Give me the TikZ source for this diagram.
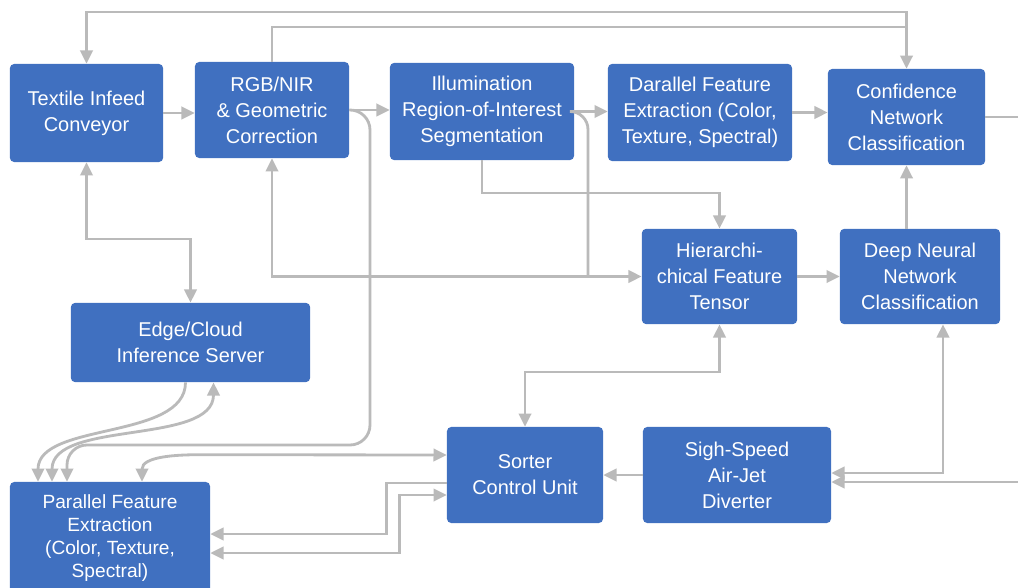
\documentclass[tikz,border=0pt]{standalone}
\usepackage{fontspec}
\setmainfont{Liberation Sans}
\usetikzlibrary{arrows.meta,calc}
\definecolor{boxblue}{RGB}{64,112,192}
\definecolor{wiregray}{RGB}{186,186,186}
\tikzset{
  stagebox/.style={fill=boxblue,rounded corners=3pt,align=center,text=white,
    font=\fontsize{14.2}{18.5}\selectfont,inner sep=2pt},
  flowline/.style={draw=wiregray,line width=2pt},
  flowarrow/.style={flowline,-{Triangle[length=3.3mm,width=3.1mm]}},
  duplexarrow/.style={flowline,{Triangle[length=3.3mm,width=3.1mm]}-{Triangle[length=3.3mm,width=3.1mm]}}
}

\begin{document}
\begin{tikzpicture}[x=0.025cm,y=0.025cm]
  \path[use as bounding box,clip] (0,0) rectangle (1018,587);
  \fill[white] (0,0) rectangle (1018,587);
  % top row
  \node[stagebox,minimum width=3.83cm,minimum height=2.45cm] (infeed) at (86.5,474) {Textile Infeed\\Conveyor};
  \node[stagebox,minimum width=3.85cm,minimum height=2.4cm] (rgb) at (272,477) {RGB/NIR\\\& Geometric\\Correction};
  \node[stagebox,minimum width=4.6cm,minimum height=2.43cm] (roi) at (482,475.5) {Illumination\\Region-of-Interest\\Segmentation};
  \node[stagebox,minimum width=4.6cm,minimum height=2.43cm] (featx) at (700,474.5) {Darallel Feature\\Extraction (Color,\\Texture, Spectral)};
  \node[stagebox,minimum width=3.93cm,minimum height=2.4cm] (conf) at (906.5,470) {Confidence\\Network\\Classification};
  % middle row
  \node[stagebox,minimum width=3.88cm,minimum height=2.38cm] (tensor) at (719.5,310.5) {Hierarchi-\\chical Feature\\Tensor};
  \node[stagebox,minimum width=4.0cm,minimum height=2.38cm] (dnn) at (920,310.5) {Deep Neural\\Network\\Classification};
  \node[stagebox,minimum width=5.98cm,minimum height=1.98cm] (edge) at (190.5,244.5) {Edge/Cloud\\Inference Server};
  % bottom row
  \node[stagebox,minimum width=5cm,minimum height=2.8cm,font=\fontsize{13.6}{16.2}\selectfont] (parfeat) at (110,49) {Parallel Feature\\Extraction\\(Color, Texture,\\Spectral)};
  \node[stagebox,minimum width=3.9cm,minimum height=2.4cm] (sorter) at (525,112) {Sorter\\Control Unit};
  \node[stagebox,minimum width=4.7cm,minimum height=2.4cm] (airjet) at (737,112) {Sigh-Speed\\Air-Jet\\Diverter};

  \coordinate (busA) at (0,575);
  \coordinate (busB) at (0,560);
  \coordinate (busC) at (0,394);
  \coordinate (busE) at (0,348);
  \coordinate (busD) at (0,215);
  \coordinate (jroi) at (588,310.5);
  \coordinate (dropC) at (370,142);
  \coordinate (rimA) at (1018,476);
  \coordinate (rimB) at (1018,105);
  \coordinate (sorterA) at ($(sorter.west)+(0,-8)$);
  \coordinate (sorterB) at ($(sorter.west)+(0,-20)$);
  \coordinate (sorterC) at ($(sorter.west)+(0,20)$);
  \coordinate (parE1) at ($(parfeat.east)+(0,4)$);
  \coordinate (parE2) at ($(parfeat.east)+(0,-15)$);

  % main chain
  \draw[flowarrow] (infeed.east) -- (infeed.east -| rgb.west);
  \draw[flowarrow] (rgb.east) -- (rgb.east -| roi.west);
  \draw[flowarrow] (roi.east) -- (roi.east -| featx.west);
  \draw[flowarrow] (featx.east) -- (featx.east -| conf.west);
  \draw[flowline] (conf.east) -- (conf.east -| rimA);
  \draw[flowarrow] (rgb.north) |- (conf.north |- busB) -- (conf.north);
  \draw[flowarrow] (conf.north |- busB) -- (conf.north |- busA) -| (infeed.north);
  \draw[duplexarrow] (infeed.south) |- (edge.north |- busE) -- (edge.north);
  \draw[duplexarrow] (rgb.south) |- (tensor.west);
  \draw[flowline,rounded corners=0.45cm] (roi.east) -| (jroi);
  \draw[flowarrow] (roi.south) |- (tensor.north |- busC) -- (tensor.north);
  \draw[flowarrow] (tensor) -- (dnn);
  \draw[flowarrow] (dnn.north -| conf.south) -- (conf.south);
  % sorter side
  \draw[duplexarrow] (sorter.north) |- (tensor.south |- busD) -- (tensor.south);
  \draw[duplexarrow] ($(dnn.south)+(23,0)$) |- ($(airjet.east)+(0,2)$);
  \draw[flowarrow] (rimB) -- (rimB -| airjet.east);
  \draw[flowarrow] (airjet) -- (sorter);
  % feedback into parallel extraction
  \draw[flowarrow,rounded corners=0.5cm] (rgb.east) -| (dropC) -| ($(parfeat.north)+(-43,0)$);
  \draw[flowarrow] ($(edge.south)+(-5,0)$) .. controls +(0,-58) and +(0,60) .. ($(parfeat.north)+(-72,0)$);
  \draw[duplexarrow] ($(edge.south)+(23,0)$) .. controls +(0,-63) and +(0,62) .. ($(parfeat.north)+(-58,0)$);
  \draw[duplexarrow] (sorterC) -- ($(parfeat.north)+(90,27)$) to[out=180,in=90] ($(parfeat.north)+(32,0)$);
  \draw[flowarrow] (sorterA) -- ++(-60,0) |- (parE1);
  \draw[duplexarrow] (sorterB) -- ++(-47,0) |- (parE2);
\end{tikzpicture}
\end{document}
